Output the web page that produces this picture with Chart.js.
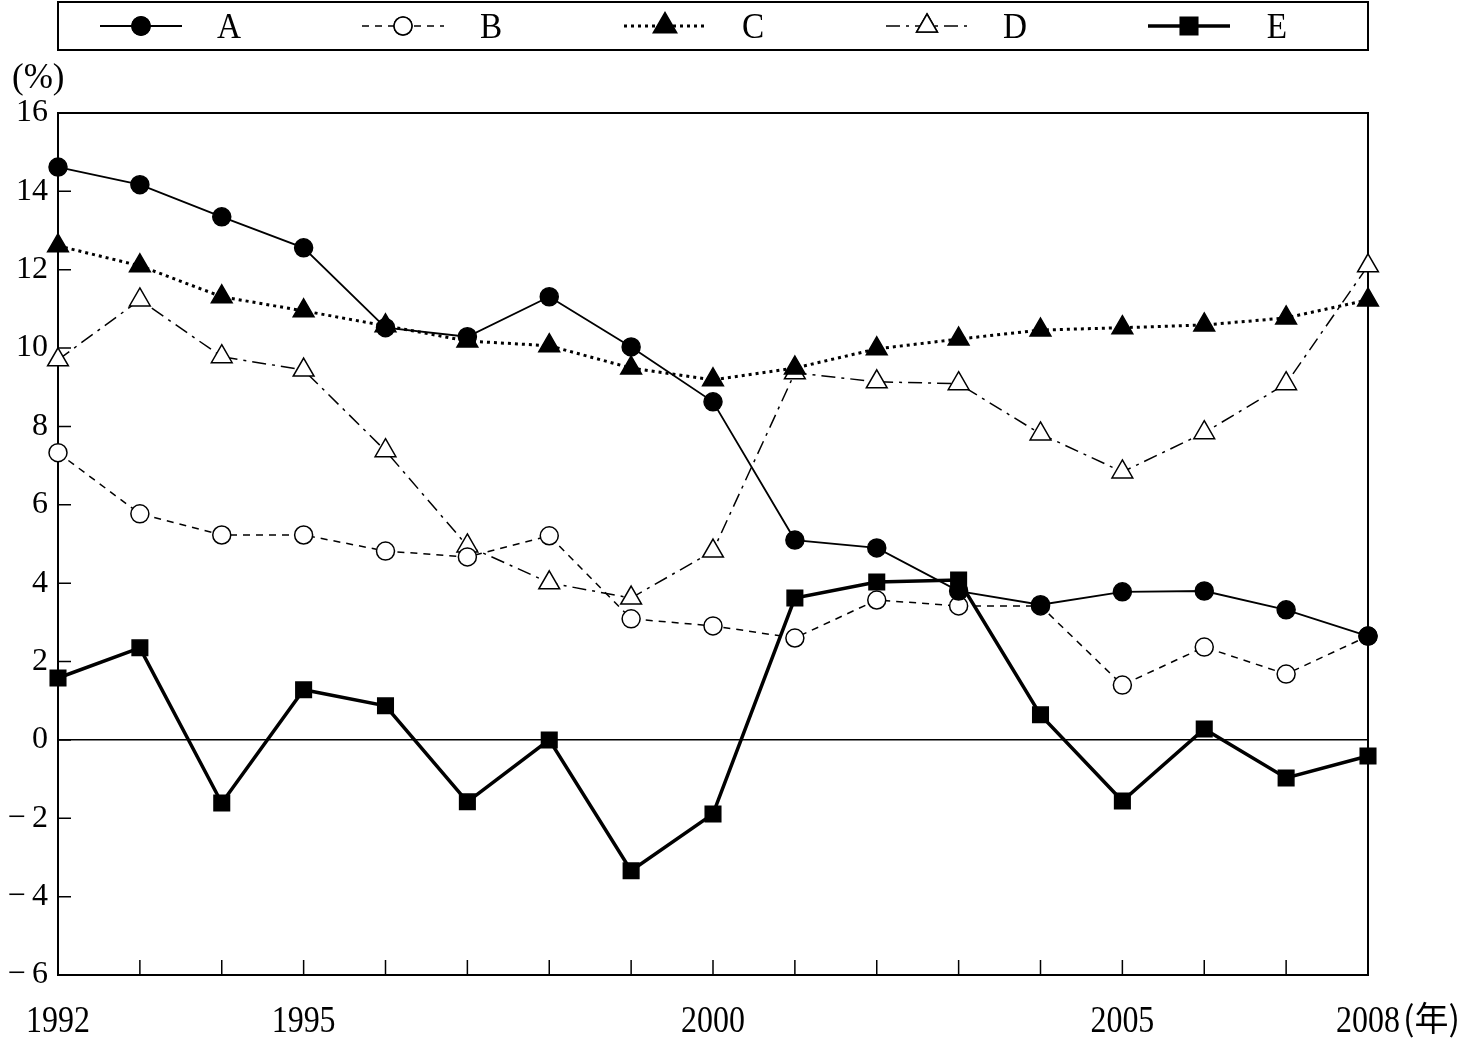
<!DOCTYPE html>
<html>
<head>
<meta charset="utf-8">
<script src="https://cdn.jsdelivr.net/npm/chart.js@4.4.0/dist/chart.umd.min.js"></script>
<style>
  body { margin: 0; background: #fff; }
  #wrap { width: 1464px; height: 1038px; position: relative; }
</style>
</head>
<body>
<div id="wrap"><canvas id="myChart"></canvas></div>
<script>
// data
const years = [1992, 1993, 1994, 1995, 1996, 1997, 1998, 1999, 2000, 2001, 2002, 2003, 2004, 2005, 2006, 2007, 2008];
const yearLabels = [1992, 1995, 2000, 2005, 2008];
const seriesNames = ['A', 'B', 'C', 'D', 'E'];

const valuesA = [14.62, 14.17, 13.35, 12.56, 10.52, 10.29, 11.31, 10.03, 8.63, 5.10, 4.90, 3.80, 3.45, 3.78, 3.80, 3.32, 2.65];
const valuesB = [7.33, 5.77, 5.23, 5.23, 4.82, 4.67, 5.21, 3.09, 2.91, 2.60, 3.57, 3.42, 3.42, 1.40, 2.37, 1.68, 2.65];
const valuesC = [12.61, 12.10, 11.31, 10.95, 10.57, 10.18, 10.06, 9.49, 9.19, 9.49, 9.98, 10.23, 10.46, 10.52, 10.59, 10.77, 11.23];
const valuesD = [9.70, 11.23, 9.78, 9.44, 7.38, 4.95, 4.01, 3.62, 4.82, 9.37, 9.14, 9.09, 7.81, 6.84, 7.84, 9.09, 12.10];
const valuesE = [1.58, 2.35, -1.61, 1.28, 0.87, -1.58, 0.0, -3.34, -1.89, 3.62, 4.03, 4.08, 0.64, -1.56, 0.28, -0.97, -0.41];

const yMin = -6, yMax = 16, yStep = 2;

const serif = "'Liberation Serif', 'DejaVu Serif', serif";

function toPoints(vals) {
    return vals.map((v, i) => ({ x: years[i], y: v }));
}

// narrow text, the reference uses a tall condensed face
function narrowText(ctx, text, x, y, sx, align) {
    ctx.save();
    ctx.translate(x, y);
    ctx.scale(sx, 1);
    ctx.textAlign = align;
    ctx.fillText(text, 0, 0);
    ctx.restore();
}

// frame, inward ticks, legend box and unit labels
const decorPlugin = {
    id: 'decor',
    beforeDatasetsDraw(chart) {
        const ctx = chart.ctx;
        const a = chart.chartArea;
        const xs = chart.scales.x;
        const ys = chart.scales.y;
        ctx.save();
        ctx.strokeStyle = '#000';
        ctx.lineWidth = 2;
        ctx.strokeRect(a.left, a.top, a.right - a.left, a.bottom - a.top);
        ctx.lineWidth = 1.5;
        ctx.beginPath();
        years.forEach(yr => {
            if (yr === years[0] || yr === years[years.length - 1]) return;
            const px = xs.getPixelForValue(yr);
            ctx.moveTo(px, a.bottom);
            ctx.lineTo(px, a.bottom - 15);
        });
        for (let v = yMin + yStep; v < yMax; v += yStep) {
            const py = ys.getPixelForValue(v);
            ctx.moveTo(a.left, py);
            ctx.lineTo(a.left + 13, py);
        }
        ctx.stroke();
        ctx.restore();
    },
    afterDraw(chart) {
        const ctx = chart.ctx;
        const a = chart.chartArea;
        const xs = chart.scales.x;
        ctx.save();
        ctx.fillStyle = '#000';

        // x labels
        ctx.font = "38px " + serif;
        ctx.textBaseline = 'alphabetic';
        yearLabels.forEach(yr => {
            narrowText(ctx, String(yr), xs.getPixelForValue(yr), 1032, 0.84, 'center');
        });
        const w2008 = ctx.measureText('2008').width * 0.84;
        const px = xs.getPixelForValue(2008) + w2008 / 2 + 3;
        ctx.font = "34px 'Noto Sans CJK SC', " + serif;
        ctx.textAlign = 'left';
        ctx.fillText('(年)', px, 1031);

        // unit label
        ctx.font = "35px " + serif;
        ctx.textBaseline = 'middle';
        ctx.fillText('(%)', 12, 79);

        // legend box
        ctx.lineWidth = 2;
        ctx.strokeStyle = '#000';
        ctx.strokeRect(a.left, 2, a.right - a.left, 48);
        const cy = 26;
        chart.data.datasets.forEach((ds, i) => {
            const cx = 141 + i * 262;
            ctx.save();
            ctx.strokeStyle = '#000';
            ctx.lineWidth = ds.borderWidth;
            ctx.setLineDash(ds.borderDash || []);
            ctx.beginPath();
            ctx.moveTo(cx - 41, cy);
            ctx.lineTo(cx + 41, cy);
            ctx.stroke();
            ctx.setLineDash([]);
            Chart.helpers.drawPoint(ctx, {
                pointStyle: ds.pointStyle,
                radius: ds.pointRadius,
                borderWidth: ds.pointBorderWidth,
                rotation: 0
            }, cx, cy);
            ctx.fillStyle = ds.pointBackgroundColor;
            ctx.strokeStyle = '#000';
            ctx.lineWidth = ds.pointBorderWidth;
            ctx.fill();
            ctx.stroke();
            ctx.restore();
            ctx.font = "35px " + serif;
            ctx.textBaseline = 'alphabetic';
            narrowText(ctx, ds.label, cx + 88, 38, 0.95, 'center');
        });
        ctx.restore();
    }
};

function makeDataset(label, vals, opts) {
    return Object.assign({
        label: label,
        data: toPoints(vals),
        borderColor: '#000',
        pointBorderColor: '#000',
        pointBorderWidth: 1.5,
        pointHoverRadius: 0,
        clip: false,
        tension: 0,
        fill: false
    }, opts);
}

function initializeChart() {
    const ctx = document.getElementById('myChart').getContext('2d');
    new Chart(ctx, {
        type: 'line',
        data: {
            datasets: [
                makeDataset(seriesNames[0], valuesA, {
                    borderWidth: 1.8, pointStyle: 'circle', pointRadius: 9, pointBackgroundColor: '#000'
                }),
                makeDataset(seriesNames[1], valuesB, {
                    borderWidth: 1.5, borderDash: [7, 6], pointStyle: 'circle', pointRadius: 9, pointBackgroundColor: '#fff'
                }),
                makeDataset(seriesNames[2], valuesC, {
                    borderWidth: 3, borderDash: [3, 4], pointStyle: 'triangle', pointRadius: 12, pointBackgroundColor: '#000'
                }),
                makeDataset(seriesNames[3], valuesD, {
                    borderWidth: 1.5, borderDash: [14, 6, 3, 6], pointStyle: 'triangle', pointRadius: 12, pointBackgroundColor: '#fff'
                }),
                makeDataset(seriesNames[4], valuesE, {
                    borderWidth: 3.5, pointStyle: 'rect', pointRadius: 11, pointBackgroundColor: '#000'
                })
            ]
        },
        options: {
            responsive: true,
            maintainAspectRatio: false,
            animation: false,
            layout: { padding: { top: 113, right: 96, left: 0, bottom: 0 } },
            plugins: {
                legend: { display: false },
                tooltip: { enabled: false }
            },
            scales: {
                x: {
                    type: 'linear',
                    min: years[0],
                    max: years[years.length - 1],
                    afterFit(scale) { scale.height = 63; },
                    afterBuildTicks(scale) {
                        scale.ticks = years.map(v => ({ value: v }));
                    },
                    ticks: {
                        autoSkip: false,
                        maxRotation: 0,
                        callback: () => ''
                    },
                    grid: { display: false, drawTicks: false },
                    border: { display: false }
                },
                y: {
                    min: yMin,
                    max: yMax,
                    afterFit(scale) { scale.width = 58; },
                    ticks: {
                        stepSize: yStep,
                        padding: 10,
                        color: '#000',
                        font: { family: serif, size: 32 },
                        callback: v => v < 0 ? '\u2212\u2009' + Math.abs(v) : String(v)
                    },
                    grid: {
                        drawTicks: false,
                        lineWidth: 1.5,
                        color: c => c.tick && c.tick.value === 0 ? '#000' : 'rgba(0,0,0,0)'
                    },
                    border: { display: false }
                }
            }
        },
        plugins: [decorPlugin]
    });
}

initializeChart();
</script>
</body>
</html>
